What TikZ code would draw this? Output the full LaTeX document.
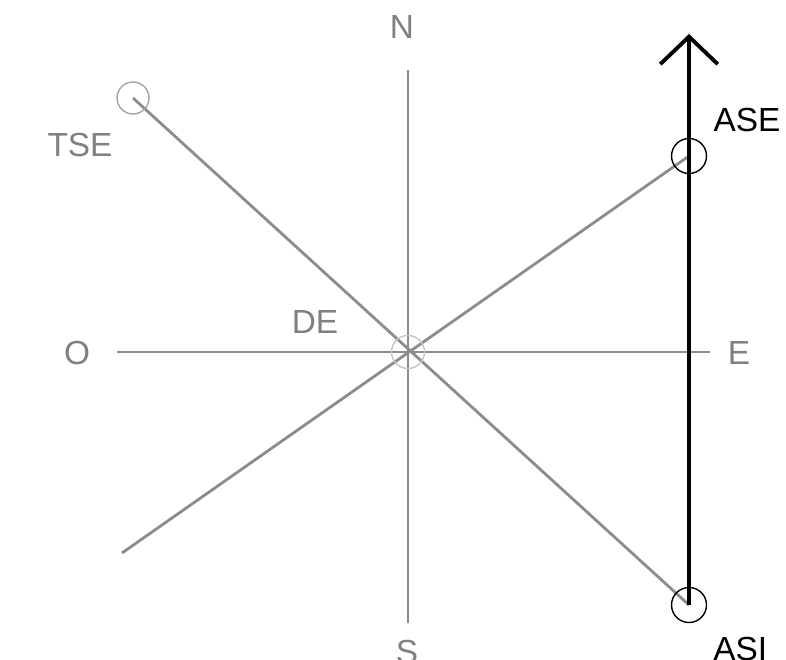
\documentclass[tikz,border=0pt]{standalone}
\usepackage{fontspec}
\setmainfont{Liberation Sans}
\usepackage{tikz}
\usetikzlibrary{
	arrows.meta,
	positioning,
	calc
}
\usepackage{xcolor}
\definecolor{axisgray}{gray}{0.55}
\definecolor{labelgray}{gray}{0.5}

\begin{document}
\begin{tikzpicture}[x=0.02cm,y=-0.02cm,
		axis/.style={draw=axisgray,line width=1.6pt},
		mark circ/.style={draw,circle,inner sep=0pt,line width=0.8pt},
		lbl/.style={text=labelgray,font=\fontsize{19}{22}\selectfont,inner sep=0pt},
		blbl/.style={text=black,font=\fontsize{19}{22}\selectfont,inner sep=0pt}]
			
			\useasboundingbox (0,0) rectangle (786,659);
			
			% points
			\coordinate (c) at (408,352);
			\coordinate (tse) at (133,98);
			\coordinate (ase) at (689,156);
			\coordinate (asi) at (689,605);
			\coordinate (sw) at (122,553);
			\coordinate (top) at (689,34);
			\coordinate (ntop) at (408,70);
			\coordinate (sbot) at (408,623);
			\coordinate (wend) at (117,352);
			\coordinate (eend) at (710,352);
			
			% axes
			\draw[axis] (ntop)--(sbot);
			\draw[axis] (wend)--(eend);
			\draw[axis] (tse)--(asi);
			\draw[axis] (sw)--(ase);
			
			% circles
			\node[mark circ,draw=axisgray!50,minimum size=0.66cm] (cc) at (c) {};
			\node[mark circ,draw=axisgray!80,minimum size=0.64cm] (tsec) at (tse) {};
			\node[mark circ,minimum size=0.7cm] (asec) at (ase) {};
			\node[mark circ,minimum size=0.7cm] (asic) at (asi) {};
			
			% arrow
			\draw[-{Straight Barb[length=0.55cm,width=1.15cm]},line width=2.2pt] (asi)--(top);
			
			% labels
			\node[lbl] (n) at (402,27) {N};
			\node[lbl,anchor=north] (s) at (407,640) {S};
			\node[lbl] (o) at (77,353) {O};
			\node[lbl] (e) at (739,353) {E};
			\node[lbl] (tsel) at (80,145) {TSE};
			\node[lbl] (de) at (315,322) {DE};
			\node[blbl] (asel) at (747,120) {ASE};
			\node[blbl,anchor=north west] (asil) at (713,637) {ASI};
			
		\end{tikzpicture}
\end{document}
